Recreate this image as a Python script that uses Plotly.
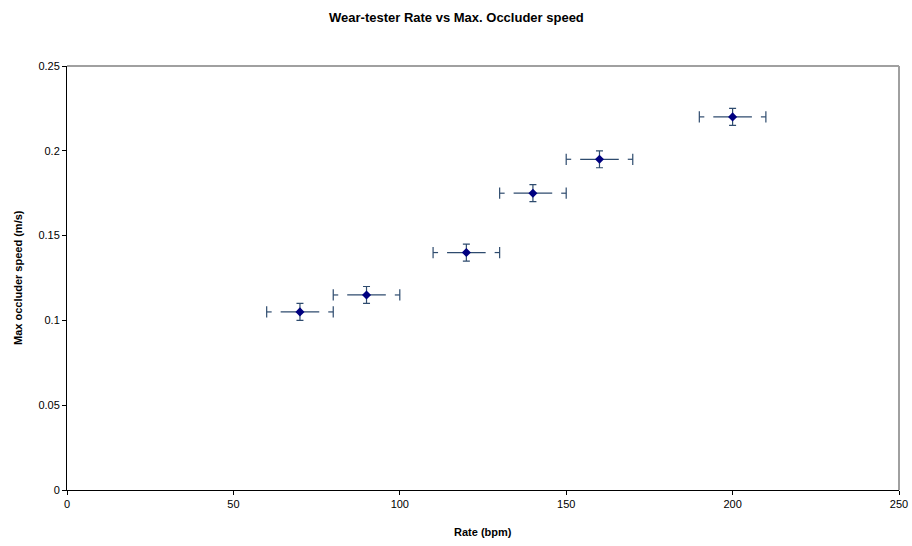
import plotly.graph_objects as go

rate_bpm = [70, 90, 120, 140, 160, 200]
max_speed = [0.105, 0.115, 0.14, 0.175, 0.195, 0.22]
rate_err = [10, 10, 10, 10, 10, 10]
speed_err = [0.005, 0.005, 0.005, 0.005, 0.005, 0.005]

x_ticks = [0, 50, 100, 150, 200, 250]
y_ticks = [0, 0.05, 0.1, 0.15, 0.2, 0.25]
y_tick_text = ["0", "0.05", "0.1", "0.15", "0.2", "0.25"]

ERR_COLOR = "#2E4B6E"
MARK_COLOR = "#000080"

W, H = 912, 546
ML, MR, MT, MB = 67, 13, 66, 56
PH = H - MT - MB

# horizontal error bar drawn as segments with small gaps near the caps (as in original render)
hx, hy = [], []
for x, y, e in zip(rate_bpm, max_speed, rate_err):
    inner = 0.58 * e
    stub = 0.85 * e
    hx += [x - e, x - stub, None, x - inner, x + inner, None, x + stub, x + e, None]
    hy += [y, y, None, y, y, None, y, y, None]

cap_x, cap_y = [], []
for x, y, e in zip(rate_bpm, max_speed, rate_err):
    cap_x += [x - e, x + e]
    cap_y += [y, y]

fig = go.Figure()
fig.add_trace(go.Scatter(
    x=hx, y=hy, mode="lines",
    line=dict(color=ERR_COLOR, width=1.2),
    hoverinfo="skip", showlegend=False,
))
fig.add_trace(go.Scatter(
    x=cap_x, y=cap_y, mode="markers",
    marker=dict(symbol="line-ns-open", size=8, color=ERR_COLOR,
                line=dict(color=ERR_COLOR, width=1.2)),
    hoverinfo="skip", showlegend=False,
))
fig.add_trace(go.Scatter(
    x=rate_bpm, y=max_speed, mode="markers",
    marker=dict(symbol="diamond", size=7, color=MARK_COLOR),
    error_y=dict(type="data", array=speed_err, visible=True,
                 color=ERR_COLOR, thickness=1.2, width=3.5),
    showlegend=False,
))

fig.update_layout(
    width=W, height=H,
    margin=dict(l=ML, r=MR, t=MT, b=MB, autoexpand=False),
    paper_bgcolor="white", plot_bgcolor="white",
    font=dict(family="Liberation Sans, Arial, sans-serif", size=11, color="black"),
    xaxis=dict(
        range=[0, 250], tickvals=x_ticks, ticktext=[str(v) for v in x_ticks],
        showgrid=False, zeroline=False, automargin=False,
        showline=True, linecolor="black", linewidth=1,
        ticks="outside", ticklen=4, tickcolor="black",
    ),
    yaxis=dict(
        range=[0, 0.25], tickvals=y_ticks, ticktext=y_tick_text,
        showgrid=False, zeroline=False, automargin=False,
        showline=True, linecolor="black", linewidth=1,
        ticks="outside", ticklen=4, tickcolor="black",
    ),
    shapes=[
        dict(type="line", xref="paper", yref="paper", x0=0, x1=1, y0=1, y1=1,
             line=dict(color="#A0A0A0", width=2)),
        dict(type="line", xref="paper", yref="paper", x0=1, x1=1, y0=0, y1=1,
             line=dict(color="#A0A0A0", width=2)),
    ],
    annotations=[
        dict(text="<b>Wear-tester Rate vs Max. Occluder speed</b>",
             xref="paper", yref="paper", x=(W / 2 - ML) / (W - ML - MR),
             y=1 + (MT - 17) / PH, xanchor="center", yanchor="middle",
             showarrow=False, font=dict(size=13)),
        dict(text="<b>Rate (bpm)</b>", xref="paper", yref="paper",
             x=0.5, y=-(532 - (H - MB)) / PH, xanchor="center", yanchor="middle",
             showarrow=False, font=dict(size=11)),
        dict(text="<b>Max occluder speed (m/s)</b>", xref="paper", yref="paper",
             x=-(ML - 18) / (W - ML - MR), y=0.5, xanchor="center", yanchor="middle",
             textangle=-90, showarrow=False, font=dict(size=11)),
    ],
)

fig.write_html("out.html", config={"displayModeBar": False},
               post_script="document.body.style.margin='0';document.body.style.overflow='hidden';")
